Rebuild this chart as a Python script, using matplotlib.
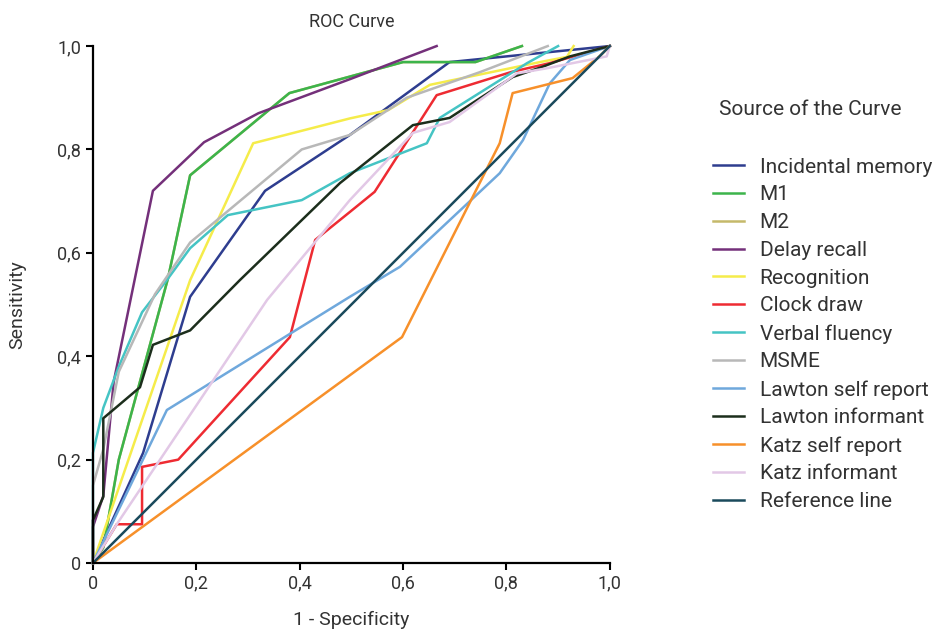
import matplotlib
matplotlib.use('Agg')
import matplotlib.pyplot as plt
from matplotlib.ticker import FuncFormatter

plt.rcParams['font.family'] = ['Roboto', 'DejaVu Sans']

# curves: (1 - specificity, sensitivity)
incidental_x = [0, 0.097, 0.188, 0.333, 0.497, 0.69, 0.85, 1.0]
incidental_y = [0, 0.213, 0.515, 0.72, 0.828, 0.969, 0.985, 1.0]

m1_x = [0, 0.02, 0.05, 0.145, 0.188, 0.38, 0.6, 0.74, 0.83]
m1_y = [0, 0.03, 0.2, 0.55, 0.75, 0.909, 0.969, 0.969, 1.0]

m2_x = [0, 0.02, 0.05, 0.145, 0.188, 0.38, 0.6, 0.74, 0.83]
m2_y = [0, 0.03, 0.2, 0.55, 0.75, 0.909, 0.969, 0.969, 1.0]

delay_x = [0, 0, 0.02, 0.04, 0.116, 0.215, 0.32, 0.5, 0.665]
delay_y = [0, 0.07, 0.13, 0.35, 0.72, 0.814, 0.87, 0.937, 1.0]

recog_x = [0, 0.188, 0.31, 0.497, 0.571, 0.652, 0.865, 0.917, 0.93]
recog_y = [0, 0.547, 0.812, 0.86, 0.876, 0.925, 0.969, 0.979, 1.0]

clock_x = [0, 0.046, 0.095, 0.095, 0.165, 0.381, 0.43, 0.497, 0.545, 0.665, 0.81, 0.884, 1.0]
clock_y = [0, 0.075, 0.075, 0.186, 0.2, 0.437, 0.625, 0.679, 0.718, 0.905, 0.95, 0.967, 1.0]

verbal_x = [0, 0, 0.02, 0.05, 0.095, 0.145, 0.188, 0.261, 0.404, 0.497, 0.646, 0.671, 0.84, 0.9]
verbal_y = [0, 0.213, 0.3, 0.38, 0.485, 0.55, 0.609, 0.673, 0.702, 0.754, 0.812, 0.861, 0.967, 1.0]

msme_x = [0, 0, 0.02, 0.05, 0.12, 0.188, 0.404, 0.497, 0.607, 0.75, 0.88]
msme_y = [0, 0.15, 0.22, 0.37, 0.52, 0.62, 0.8, 0.828, 0.9, 0.95, 1.0]

lawton_sr_x = [0, 0.143, 0.497, 0.594, 0.787, 0.832, 0.884, 0.923, 1.0]
lawton_sr_y = [0, 0.296, 0.515, 0.573, 0.754, 0.818, 0.928, 0.973, 1.0]

lawton_inf_x = [0, 0, 0.02, 0.02, 0.091, 0.116, 0.188, 0.284, 0.478, 0.619, 0.69, 0.812, 0.87, 0.923, 1.0]
lawton_inf_y = [0, 0.083, 0.128, 0.28, 0.34, 0.422, 0.45, 0.547, 0.735, 0.847, 0.861, 0.94, 0.96, 0.98, 1.0]

katz_sr_x = [0, 0.598, 0.787, 0.812, 0.928, 0.98, 1.0]
katz_sr_y = [0, 0.437, 0.812, 0.909, 0.938, 0.98, 1.0]

katz_inf_x = [0, 0.046, 0.337, 0.497, 0.619, 0.69, 0.82, 0.878, 0.994, 1.0]
katz_inf_y = [0, 0.075, 0.509, 0.702, 0.832, 0.853, 0.947, 0.957, 0.98, 1.0]

ref_x = [0, 1]
ref_y = [0, 1]

labels = ['Incidental memory', 'M1', 'M2', 'Delay recall', 'Recognition', 'Clock draw',
          'Verbal fluency', 'MSME', 'Lawton self report', 'Lawton informant',
          'Katz self report', 'Katz informant', 'Reference line']
curves = [(incidental_x, incidental_y), (m1_x, m1_y), (m2_x, m2_y), (delay_x, delay_y),
          (recog_x, recog_y), (clock_x, clock_y), (verbal_x, verbal_y), (msme_x, msme_y),
          (lawton_sr_x, lawton_sr_y), (lawton_inf_x, lawton_inf_y), (katz_sr_x, katz_sr_y),
          (katz_inf_x, katz_inf_y), (ref_x, ref_y)]
colors = ['#2e3d8f', '#3cb44b', '#c5b96a', '#74307a', '#f5ec4a', '#ee2b32', '#45c4c4',
          '#b8b8b8', '#6fa8dc', '#1c2e1c', '#f7902a', '#e2c8e6', '#1a4a5c']

fig = plt.figure(figsize=(9.38, 6.3), dpi=100)
ax = fig.add_axes([0.0991, 0.1063, 0.551, 0.8206])

# draw M2 first so it sits under M1
order = [2, 0, 1, 3, 4, 5, 6, 7, 8, 9, 10, 11, 12]
handles = {}
for i in order:
    x, y = curves[i]
    ln, = ax.plot(x, y, color=colors[i], lw=1.8, clip_on=False, label=labels[i])
    handles[i] = ln

ax.set_xlim(0, 1)
ax.set_ylim(0, 1)
ticks = [0, 0.2, 0.4, 0.6, 0.8, 1.0]
ax.set_xticks(ticks)
ax.set_yticks(ticks)
fmt = FuncFormatter(lambda v, p: '0' if v == 0 else f'{v:.1f}'.replace('.', ','))
ax.xaxis.set_major_formatter(fmt)
ax.yaxis.set_major_formatter(fmt)
ax.tick_params(length=5, width=1.5, labelsize=13, labelcolor='#333333', color='black')
for s in ['top', 'right']:
    ax.spines[s].set_visible(False)
for s in ['left', 'bottom']:
    ax.spines[s].set_linewidth(1.6)

ax.set_title('ROC Curve', fontsize=13, color='#333333', pad=14)
ax.set_xlabel('1 - Specificity', fontsize=14, color='#333333', labelpad=13)
ax.set_ylabel('Sensitivity', fontsize=14, color='#333333', labelpad=22)

fig.text(0.766, 0.826, 'Source of the Curve', fontsize=15, color='#333333', va='center')
ax.legend([handles[i] for i in range(len(labels))], labels,
          loc='upper left', bbox_to_anchor=(0.751, 0.763), bbox_transform=fig.transFigure,
          frameon=False, fontsize=15, handlelength=1.5, handletextpad=0.75,
          labelspacing=0.42, borderaxespad=0, labelcolor='#333333')

fig.savefig('out.png', dpi=100)
